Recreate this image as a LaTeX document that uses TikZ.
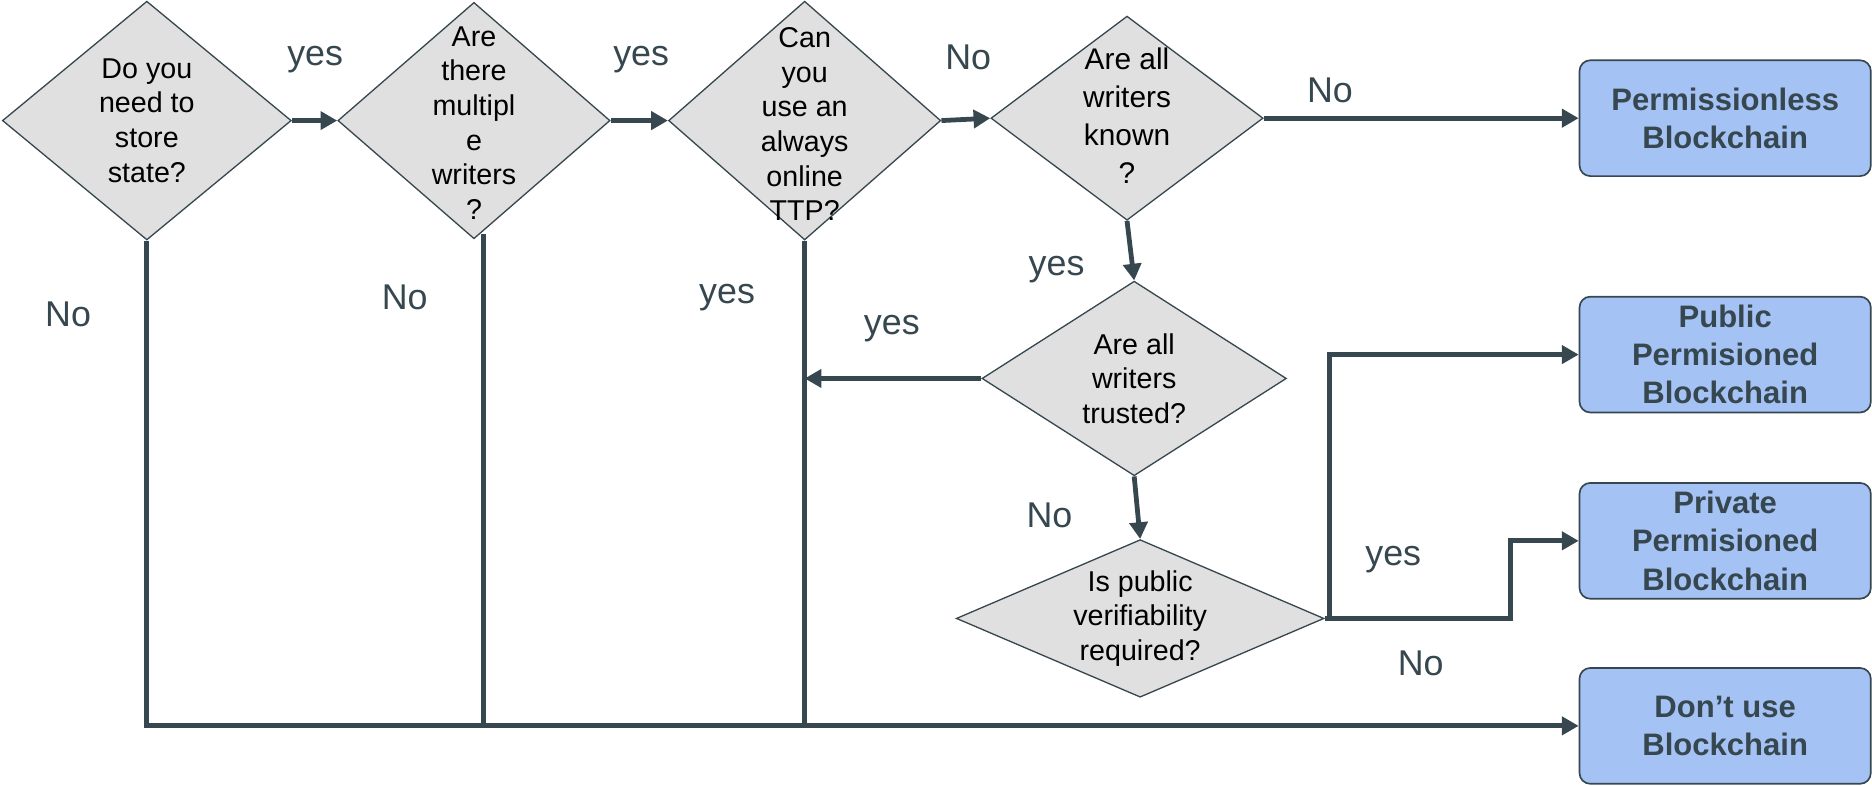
\documentclass[tikz,border=0pt]{standalone}
\usepackage{fontspec}
\setmainfont{Liberation Sans}
\usepackage{tikz}
\usetikzlibrary{shapes.geometric,arrows.meta,calc}

\definecolor{slate}{RGB}{55,71,79}
\definecolor{qgray}{RGB}{224,224,224}
\definecolor{leafblue}{RGB}{164,194,244}

\tikzset{
    question/.style={diamond,draw=slate,fill=qgray,line width=1.1pt,inner sep=0pt},
    qtext/.style={align=center,text=black,font=\fontsize{24}{29}\selectfont},
    leaf/.style={draw=slate,fill=leafblue,line width=1.4pt,rounded corners=9pt,
        minimum width=244pt,minimum height=97pt,align=center,text=slate,
        font=\fontsize{26}{32}\selectfont\bfseries},
    answer/.style={text=slate,font=\fontsize{30}{36}\selectfont},
    conn/.style={draw=slate,line width=4pt},
    arr/.style={conn,-{Triangle[length=14pt,width=15pt]}},
}

\begin{document}
\begin{tikzpicture}[x=1pt,y=-1pt]
    \useasboundingbox (0,0) rectangle (1568,658);

    % decisions
    \node[question,minimum width=242pt,minimum height=200pt] (d1) at (123,101) {};
    \node[question,minimum width=228pt,minimum height=198pt] (d2) at (397,101) {};
    \node[question,minimum width=228pt,minimum height=200pt] (d3) at (674,101) {};
    \node[question,minimum width=228pt,minimum height=171pt] (d4) at (944,99) {};
    \node[question,minimum width=255pt,minimum height=163pt] (d5) at (950,317) {};
    \node[question,minimum width=308pt,minimum height=132pt] (d6) at (955,518) {};

    \node[qtext] (d1t) at (d1.center) {Do you\\need to\\store\\state?};
    \node[qtext] (d2t) at (397,103) {Are\\there\\multipl\\e\\writers\\?};
    \node[qtext] (d3t) at (674,104) {Can\\you\\use an\\always\\online\\TTP?};
    \node[qtext,font=\fontsize{25}{32}\selectfont] (d4t) at (944,97) {Are all\\writers\\known\\?};
    \node[qtext] (d5t) at (d5.center) {Are all\\writers\\trusted?};
    \node[qtext] (d6t) at (d6.center) {Is public\\verifiability\\required?};

    % outcomes
    \node[leaf] (b1) at (1445,99) {Permissionless\\Blockchain};
    \node[leaf] (b2) at (1445,297) {Public\\Permisioned\\Blockchain};
    \node[leaf] (b3) at (1445,453) {Private\\Permisioned\\Blockchain};
    \node[leaf] (b4) at (1445,608) {Don’t use\\Blockchain};

    % flow
    \draw[arr] (d1.east) -- (d2.west);
    \draw[arr] (d2.east) -- (d3.west);
    \draw[arr] (d3.east) -- (d4.west);
    \draw[arr] (d4.east) -- (b1.west);
    \draw[arr] (d4.south) -- (d5.north);
    \draw[arr] (d5.south) -- (d6.north);
    \draw[arr] (d5.west) -- (d5.west -| d3.south);

    \coordinate (d2x) at (405,196);
    \coordinate (bend) at (1265,518);
    \draw[arr] (d6.east) -- ++(4,0) |- (b2.west);
    \draw[arr] (d6.east) -- (bend) |- (b3.west);

    \draw[arr] (d1.south) |- (b4.west);
    \draw[conn] (d2x) -- (d2x |- b4.west);
    \draw[conn] (d3.south) -- (d3.south |- b4.west);

    % answers
    \node[answer] (a1) at (264,50) {yes};
    \node[answer] (a2) at (537,50) {yes};
    \node[answer] (a3) at (811,48) {No};
    \node[answer] (a4) at (1114,76) {No};
    \node[answer] (a5) at (885,226) {yes};
    \node[answer] (a6) at (747,275) {yes};
    \node[answer] (a7) at (57,263) {No};
    \node[answer] (a8) at (339,249) {No};
    \node[answer] (a9) at (609,249) {yes};
    \node[answer] (a10) at (879,432) {No};
    \node[answer] (a11) at (1167,469) {yes};
    \node[answer] (a12) at (1190,556) {No};
\end{tikzpicture}
\end{document}
